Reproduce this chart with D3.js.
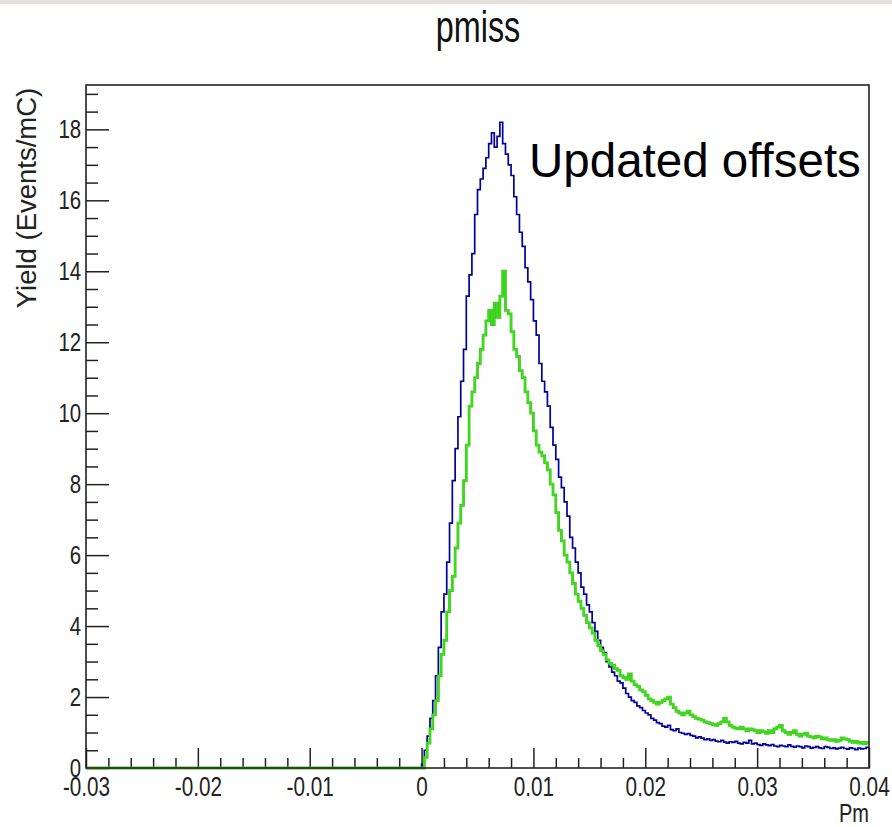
<!DOCTYPE html>
<html>
<head>
<meta charset="utf-8">
<script src="https://cdn.jsdelivr.net/npm/d3@7"></script>
<style>
body{margin:0;background:#fff;}
</style>
</head>
<body>
<script>
// histogram binning (Pm), values in Events/mC
var binStart=0, binWidth=0.00025;
var emptyRange=[-0.03, 0];
var blueYield=[0.1,0.5,0.9,1.4,1.9,2.6,3.4,4.4,4.9,5.8,
6.9,8.1,9.0,9.9,10.9,11.8,13.3,13.9,14.5,15.6,
16.3,16.6,16.9,17.2,17.6,17.9,17.5,17.8,18.2,17.6,
17.3,17.0,16.7,16.1,15.6,15.1,14.7,14.1,13.7,13.2,
12.6,12.2,11.4,10.9,10.6,10.2,9.6,9.1,8.7,8.2,
7.9,7.5,7.1,6.5,6.2,5.8,5.5,5.1,4.9,4.6,
4.4,4.1,3.85,3.6,3.4,3.25,3.0,2.85,2.7,2.6,
2.45,2.4,2.25,2.1,2.0,1.9,1.85,1.75,1.7,1.62,
1.55,1.5,1.4,1.35,1.28,1.25,1.18,1.15,1.2,1.08,
1.05,1.1,1.0,0.98,0.95,0.97,0.92,0.9,0.85,0.88,
0.84,0.8,0.82,0.78,0.8,0.76,0.74,0.78,0.73,0.7,
0.74,0.72,0.75,0.7,0.68,0.72,0.7,0.78,0.68,0.7,
0.66,0.64,0.68,0.65,0.63,0.66,0.62,0.6,0.64,0.62,
0.6,0.65,0.61,0.59,0.62,0.6,0.57,0.62,0.6,0.56,
0.58,0.6,0.57,0.55,0.6,0.58,0.55,0.57,0.54,0.56,
0.58,0.55,0.53,0.57,0.55,0.52,0.56,0.54,0.55,0.58];
var greenYield=[0.0,0.3,0.7,1.1,1.5,1.9,2.6,3.2,3.6,4.4,
5.0,5.4,6.2,6.9,7.4,8.1,9.1,10.2,10.6,11.0,
11.4,11.8,12.2,12.6,12.9,12.5,13.1,12.7,13.3,14.0,
12.9,12.8,12.3,11.8,11.6,11.2,11.0,10.6,10.3,10.0,
9.5,9.1,8.9,8.8,8.6,8.4,8.0,7.7,7.2,6.7,
6.4,6.0,5.8,5.5,5.2,4.9,4.7,4.5,4.3,4.1,
3.95,3.8,3.6,3.45,3.3,3.2,3.05,2.95,2.9,2.8,
2.75,2.6,2.55,2.5,2.65,2.45,2.35,2.3,2.2,2.15,
2.05,1.95,1.9,1.85,1.8,1.85,1.9,1.95,2.0,1.8,
1.7,1.6,1.55,1.5,1.55,1.6,1.5,1.45,1.4,1.38,
1.35,1.3,1.28,1.25,1.22,1.2,1.25,1.3,1.4,1.3,
1.2,1.15,1.12,1.1,1.15,1.1,1.05,1.1,1.08,1.05,
1.0,1.05,1.02,0.98,1.05,1.0,1.1,1.15,1.2,1.05,
1.0,0.95,1.0,1.05,0.95,0.9,0.95,0.98,0.9,0.88,
0.85,0.9,0.88,0.82,0.85,0.8,0.78,0.8,0.75,0.78,
0.85,0.82,0.8,0.75,0.72,0.75,0.7,0.72,0.68,0.72];
var xMajor=[-0.03,-0.02,-0.01,0,0.01,0.02,0.03,0.04];
var xLabels=["-0.03","-0.02","-0.01","0","0.01","0.02","0.03","0.04"];
var yMajor=[0,2,4,6,8,10,12,14,16,18];

var W=892, H=827;
var padL=86, padR=869, padT=85, padB=768;

var svg=d3.select("body").append("svg").attr("width",W).attr("height",H);
svg.append("rect").attr("width",W).attr("height",H).attr("fill","#fff");
svg.append("rect").attr("width",W).attr("height",4).attr("fill","#e4e1dd");

var x=d3.scaleLinear().domain([-0.03,0.04]).range([padL,padR]);
var y=d3.scaleLinear().domain([0,19.25]).range([padB,padT]);

function steps(vals){
	var pts=[[emptyRange[0],0],[emptyRange[1],0]];
	vals.forEach(function(v,i){
		var lo=binStart+i*binWidth;
		pts.push([lo,v]);
		pts.push([lo+binWidth,v]);
	});
	return pts;
}
var line=d3.line().x(function(d){return x(d[0]);}).y(function(d){return y(d[1]);});

// minor ticks
var xMinor=d3.range(-0.03,0.0401,0.002).filter(function(v){return Math.abs(Math.round(v*100)-v*100)>1e-6;});
var yMinor=d3.range(0,19.01,0.5).filter(function(v){return v%2!=0;});

var gx=svg.append("g").attr("transform","translate(0,"+padB+")");
gx.call(d3.axisBottom(x).tickValues(xMinor).tickSize(-10).tickFormat(""));
var gx2=svg.append("g").attr("transform","translate(0,"+padB+")");
gx2.call(d3.axisBottom(x).tickValues(xMajor).tickSize(-20).tickPadding(8)
	.tickFormat(function(d,i){return xLabels[i];}));
var gy=svg.append("g").attr("transform","translate("+padL+",0)");
gy.call(d3.axisLeft(y).tickValues(yMinor).tickSize(-12).tickFormat(""));
var gy2=svg.append("g").attr("transform","translate("+padL+",0)");
gy2.call(d3.axisLeft(y).tickValues(yMajor).tickSize(-23).tickPadding(6));
svg.selectAll(".domain").remove();
svg.selectAll(".tick line").attr("stroke","#222").attr("stroke-width",1.5);
gx2.selectAll("text").attr("font-family","Liberation Sans, Arial, sans-serif")
	.attr("font-size",28).attr("fill","#222").attr("transform","scale(0.74,1)");
gy2.selectAll("text").attr("font-family","Liberation Sans, Arial, sans-serif")
	.attr("font-size",25.5).attr("fill","#222").attr("transform","scale(0.8,1)");

// histograms
svg.append("path").datum(steps(blueYield)).attr("d",line)
	.attr("fill","none").attr("stroke","#00009a").attr("stroke-width",1.7);
svg.append("path").datum(steps(greenYield)).attr("d",line)
	.attr("fill","none").attr("stroke","#5fb52d").attr("stroke-width",2.8);
svg.append("path").datum(steps(greenYield)).attr("d",line)
	.attr("fill","none").attr("stroke","#28ea14").attr("stroke-width",1.6);

// frame
svg.append("rect").attr("x",padL).attr("y",padT).attr("width",padR-padL).attr("height",padB-padT)
	.attr("fill","none").attr("stroke","#222").attr("stroke-width",1.6);

// texts
svg.append("text").attr("transform","translate(478,42) scale(0.72,1)")
	.attr("text-anchor","middle").attr("font-family","Liberation Sans, Arial, sans-serif")
	.attr("font-size",45).attr("fill","#111").text("pmiss");
svg.append("text").attr("transform","translate(36,198) rotate(-90)")
	.attr("text-anchor","middle").attr("font-family","Liberation Sans, Arial, sans-serif")
	.attr("font-size",27.5).attr("fill","#222").text("Yield (Events/mC)");
svg.append("text").attr("transform","translate(869,822) scale(0.8,1)")
	.attr("text-anchor","end").attr("font-family","Liberation Sans, Arial, sans-serif")
	.attr("font-size",25).attr("fill","#222").text("Pm");
svg.append("text").attr("x",529).attr("y",177)
	.attr("font-family","Liberation Sans, Arial, sans-serif")
	.attr("font-size",47.5).attr("fill","#000").text("Updated offsets");
</script>
</body>
</html>
